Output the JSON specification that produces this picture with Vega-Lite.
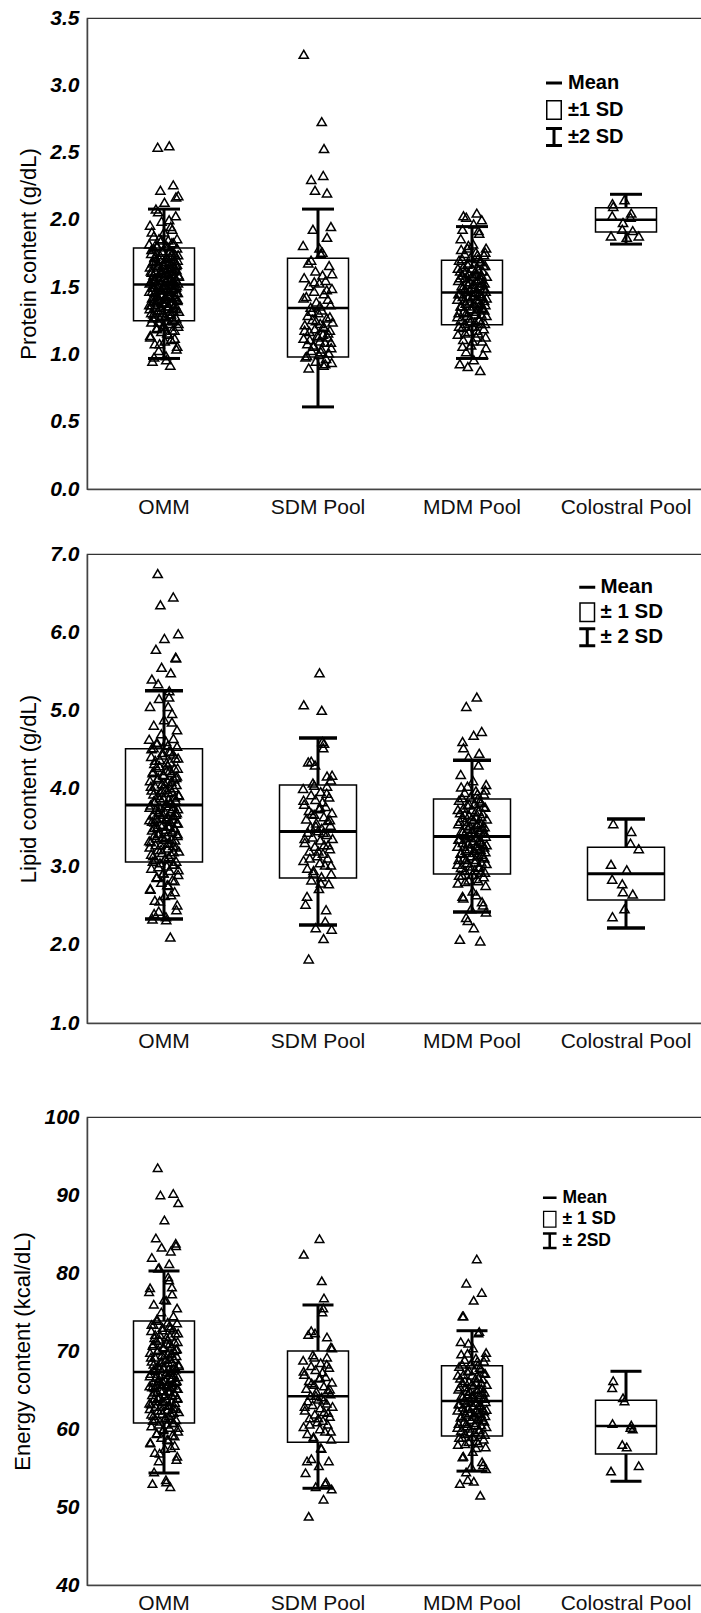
{
"$schema": "https://vega.github.io/schema/vega-lite/v6.json",
"padding": {"left": 11, "top": 6, "right": 0, "bottom": 0},
"config": {
  "font": "Liberation Sans",
  "view": {"stroke": "#333", "strokeWidth": 1.2},
  "axis": {"grid": false, "domainColor": "#444", "domainWidth": 1.5, "labelColor": "black", "titleColor": "black", "labelFont": "Liberation Sans", "titleFont": "Liberation Sans"},
  "axisY": {"titleFontSize": 22, "titleFontWeight": "normal", "titlePadding": 9, "labelFontSize": 21, "labelFontWeight": "bold", "labelFontStyle": "italic", "labelPadding": 8, "ticks": false},
  "axisX": {"labelFontSize": 21, "labelPadding": 7, "ticks": false, "labelAngle": 0, "labelColor": "#111"},
  "legend": {"title": null, "orient": "none", "padding": 0, "symbolStrokeColor": "black", "symbolFillColor": "black", "symbolStrokeWidth": 0, "symbolOpacity": 1, "labelFont": "Liberation Sans", "labelFontWeight": "bold", "labelColor": "black"}
},
"datasets": {
"sp": [
 {"g":"OMM","mean":1.52,"lo1":1.25,"hi1":1.79,"lo2":0.97,"hi2":2.08},
 {"g":"SDM Pool","mean":1.345,"lo1":0.98,"hi1":1.715,"lo2":0.61,"hi2":2.08},
 {"g":"MDM Pool","mean":1.46,"lo1":1.22,"hi1":1.70,"lo2":0.97,"hi2":1.95},
 {"g":"Colostral Pool","mean":2.00,"lo1":1.91,"hi1":2.09,"lo2":1.82,"hi2":2.19}
],
"sl": [
 {"g":"OMM","mean":3.79,"lo1":3.06,"hi1":4.51,"lo2":2.33,"hi2":5.25},
 {"g":"SDM Pool","mean":3.45,"lo1":2.855,"hi1":4.045,"lo2":2.254,"hi2":4.646},
 {"g":"MDM Pool","mean":3.386,"lo1":2.906,"hi1":3.865,"lo2":2.42,"hi2":4.36},
 {"g":"Colostral Pool","mean":2.91,"lo1":2.574,"hi1":3.25,"lo2":2.215,"hi2":3.61}
],
"se": [
 {"g":"OMM","mean":67.3,"lo1":60.77,"hi1":73.85,"lo2":54.36,"hi2":80.26},
 {"g":"SDM Pool","mean":64.2,"lo1":58.3,"hi1":70.0,"lo2":52.4,"hi2":75.9},
 {"g":"MDM Pool","mean":63.6,"lo1":59.1,"hi1":68.1,"lo2":54.6,"hi2":72.6},
 {"g":"Colostral Pool","mean":60.4,"lo1":56.8,"hi1":63.7,"lo2":53.3,"hi2":67.4}
],
"pts": [
{"g":"OMM","j":0.42,"p":0.92,"l":2.10,"e":52.6},
{"g":"OMM","j":-0.77,"p":0.95,"l":2.33,"e":53.0},
{"g":"OMM","j":0.13,"p":0.99,"l":2.36,"e":53.5},
{"g":"OMM","j":-0.35,"p":1.03,"l":2.43,"e":55.9},
{"g":"OMM","j":0.88,"p":1.06,"l":2.51,"e":56.5},
{"g":"OMM","j":-0.61,"p":1.08,"l":2.57,"e":57.0},
{"g":"OMM","j":0.05,"p":1.10,"l":2.63,"e":57.5},
{"g":"OMM","j":0.71,"p":1.12,"l":2.68,"e":57.9},
{"g":"OMM","j":-0.92,"p":1.14,"l":2.72,"e":58.3},
{"g":"OMM","j":0.29,"p":1.15,"l":2.76,"e":58.6},
{"g":"OMM","j":-0.18,"p":1.17,"l":2.80,"e":58.9},
{"g":"OMM","j":0.56,"p":1.18,"l":2.83,"e":59.2},
{"g":"OMM","j":-0.49,"p":1.19,"l":2.86,"e":59.4},
{"g":"OMM","j":0.94,"p":1.21,"l":2.90,"e":59.7},
{"g":"OMM","j":-0.03,"p":1.22,"l":2.92,"e":60.0},
{"g":"OMM","j":0.37,"p":1.23,"l":2.95,"e":60.2},
{"g":"OMM","j":-0.84,"p":1.24,"l":2.98,"e":60.4},
{"g":"OMM","j":0.19,"p":1.25,"l":3.01,"e":60.6},
{"g":"OMM","j":0.66,"p":1.25,"l":3.03,"e":60.8},
{"g":"OMM","j":-0.27,"p":1.27,"l":3.05,"e":61.0},
{"g":"OMM","j":0.81,"p":1.27,"l":3.07,"e":61.2},
{"g":"OMM","j":-0.58,"p":1.28,"l":3.09,"e":61.3},
{"g":"OMM","j":0.08,"p":1.29,"l":3.11,"e":61.5},
{"g":"OMM","j":-0.71,"p":1.30,"l":3.14,"e":61.7},
{"g":"OMM","j":0.47,"p":1.30,"l":3.16,"e":61.9},
{"g":"OMM","j":-0.12,"p":1.31,"l":3.18,"e":62.0},
{"g":"OMM","j":0.99,"p":1.32,"l":3.20,"e":62.2},
{"g":"OMM","j":-0.40,"p":1.33,"l":3.22,"e":62.4},
{"g":"OMM","j":0.24,"p":1.34,"l":3.24,"e":62.5},
{"g":"OMM","j":-0.95,"p":1.34,"l":3.25,"e":62.6},
{"g":"OMM","j":0.61,"p":1.35,"l":3.27,"e":62.8},
{"g":"OMM","j":-0.22,"p":1.35,"l":3.28,"e":62.9},
{"g":"OMM","j":0.33,"p":1.36,"l":3.31,"e":63.1},
{"g":"OMM","j":-0.87,"p":1.37,"l":3.32,"e":63.2},
{"g":"OMM","j":0.74,"p":1.37,"l":3.34,"e":63.4},
{"g":"OMM","j":0.02,"p":1.38,"l":3.35,"e":63.5},
{"g":"OMM","j":-0.53,"p":1.39,"l":3.37,"e":63.6},
{"g":"OMM","j":0.17,"p":1.39,"l":3.39,"e":63.8},
{"g":"OMM","j":-0.66,"p":1.40,"l":3.40,"e":63.9},
{"g":"OMM","j":0.90,"p":1.41,"l":3.42,"e":64.0},
{"g":"OMM","j":-0.31,"p":1.41,"l":3.43,"e":64.1},
{"g":"OMM","j":0.52,"p":1.42,"l":3.45,"e":64.3},
{"g":"OMM","j":-0.79,"p":1.42,"l":3.47,"e":64.4},
{"g":"OMM","j":0.11,"p":1.43,"l":3.48,"e":64.5},
{"g":"OMM","j":0.69,"p":1.43,"l":3.50,"e":64.7},
{"g":"OMM","j":-0.45,"p":1.44,"l":3.51,"e":64.8},
{"g":"OMM","j":0.27,"p":1.44,"l":3.52,"e":64.9},
{"g":"OMM","j":-0.08,"p":1.45,"l":3.54,"e":65.0},
{"g":"OMM","j":0.85,"p":1.46,"l":3.56,"e":65.2},
{"g":"OMM","j":-0.63,"p":1.46,"l":3.57,"e":65.3},
{"g":"OMM","j":0.38,"p":1.47,"l":3.58,"e":65.4},
{"g":"OMM","j":-0.97,"p":1.47,"l":3.60,"e":65.5},
{"g":"OMM","j":0.58,"p":1.48,"l":3.61,"e":65.6},
{"g":"OMM","j":-0.15,"p":1.48,"l":3.62,"e":65.7},
{"g":"OMM","j":0.21,"p":1.49,"l":3.64,"e":65.8},
{"g":"OMM","j":-0.74,"p":1.50,"l":3.66,"e":66.0},
{"g":"OMM","j":0.79,"p":1.50,"l":3.67,"e":66.1},
{"g":"OMM","j":-0.36,"p":1.51,"l":3.69,"e":66.2},
{"g":"OMM","j":0.07,"p":1.51,"l":3.70,"e":66.3},
{"g":"OMM","j":0.48,"p":1.52,"l":3.71,"e":66.4},
{"g":"OMM","j":-0.56,"p":1.52,"l":3.73,"e":66.6},
{"g":"OMM","j":0.93,"p":1.53,"l":3.74,"e":66.7},
{"g":"OMM","j":-0.26,"p":1.53,"l":3.76,"e":66.8},
{"g":"OMM","j":0.64,"p":1.54,"l":3.77,"e":67.0},
{"g":"OMM","j":-0.89,"p":1.54,"l":3.79,"e":67.1},
{"g":"OMM","j":0.15,"p":1.55,"l":3.81,"e":67.3},
{"g":"OMM","j":0.44,"p":1.56,"l":3.83,"e":67.5},
{"g":"OMM","j":-0.69,"p":1.56,"l":3.84,"e":67.6},
{"g":"OMM","j":0.31,"p":1.57,"l":3.86,"e":67.7},
{"g":"OMM","j":-0.04,"p":1.57,"l":3.88,"e":67.9},
{"g":"OMM","j":0.72,"p":1.58,"l":3.89,"e":68.0},
{"g":"OMM","j":-0.43,"p":1.58,"l":3.91,"e":68.1},
{"g":"OMM","j":0.97,"p":1.59,"l":3.92,"e":68.3},
{"g":"OMM","j":-0.20,"p":1.60,"l":3.95,"e":68.5},
{"g":"OMM","j":0.55,"p":1.60,"l":3.96,"e":68.6},
{"g":"OMM","j":-0.82,"p":1.61,"l":3.98,"e":68.7},
{"g":"OMM","j":0.10,"p":1.61,"l":3.99,"e":68.9},
{"g":"OMM","j":0.35,"p":1.62,"l":4.01,"e":69.0},
{"g":"OMM","j":-0.59,"p":1.62,"l":4.03,"e":69.2},
{"g":"OMM","j":0.83,"p":1.63,"l":4.05,"e":69.4},
{"g":"OMM","j":-0.13,"p":1.63,"l":4.06,"e":69.5},
{"g":"OMM","j":0.26,"p":1.64,"l":4.09,"e":69.7},
{"g":"OMM","j":-0.93,"p":1.65,"l":4.10,"e":69.8},
{"g":"OMM","j":0.67,"p":1.65,"l":4.12,"e":70.0},
{"g":"OMM","j":-0.38,"p":1.66,"l":4.14,"e":70.2},
{"g":"OMM","j":0.86,"p":1.67,"l":4.16,"e":70.3},
{"g":"OMM","j":-0.07,"p":1.67,"l":4.18,"e":70.5},
{"g":"OMM","j":0.50,"p":1.68,"l":4.20,"e":70.6},
{"g":"OMM","j":-0.72,"p":1.69,"l":4.22,"e":70.9},
{"g":"OMM","j":0.18,"p":1.69,"l":4.23,"e":71.0},
{"g":"OMM","j":0.91,"p":1.70,"l":4.26,"e":71.2},
{"g":"OMM","j":-0.50,"p":1.70,"l":4.27,"e":71.3},
{"g":"OMM","j":0.23,"p":1.71,"l":4.30,"e":71.5},
{"g":"OMM","j":-0.64,"p":1.72,"l":4.32,"e":71.7},
{"g":"OMM","j":0.40,"p":1.73,"l":4.34,"e":71.9},
{"g":"OMM","j":-0.28,"p":1.74,"l":4.37,"e":72.1},
{"g":"OMM","j":0.76,"p":1.74,"l":4.39,"e":72.3},
{"g":"OMM","j":-0.85,"p":1.75,"l":4.41,"e":72.6},
{"g":"OMM","j":0.60,"p":1.76,"l":4.44,"e":72.8},
{"g":"OMM","j":-0.10,"p":1.77,"l":4.46,"e":73.0},
{"g":"OMM","j":0.34,"p":1.77,"l":4.48,"e":73.2},
{"g":"OMM","j":-0.70,"p":1.79,"l":4.52,"e":73.4},
{"g":"OMM","j":0.87,"p":1.79,"l":4.54,"e":73.6},
{"g":"OMM","j":-0.47,"p":1.80,"l":4.57,"e":73.9},
{"g":"OMM","j":0.14,"p":1.81,"l":4.60,"e":76.5},
{"g":"OMM","j":-0.99,"p":1.82,"l":4.63,"e":77.6},
{"g":"OMM","j":0.53,"p":1.83,"l":4.85,"e":78.2},
{"g":"OMM","j":0.28,"p":1.85,"l":5.05,"e":79.5},
{"g":"OMM","j":-0.33,"p":1.86,"l":5.15,"e":80.7},
{"g":"OMM","j":0.35,"p":2.55,"l":5.25,"e":81.2},
{"g":"OMM","j":-0.81,"p":1.91,"l":5.40,"e":82.0},
{"g":"OMM","j":0.45,"p":1.95,"l":5.48,"e":82.8},
{"g":"OMM","j":-0.16,"p":1.99,"l":5.55,"e":83.3},
{"g":"OMM","j":0.78,"p":2.03,"l":5.68,"e":83.8},
{"g":"OMM","j":-0.54,"p":2.08,"l":5.78,"e":84.5},
{"g":"OMM","j":0.03,"p":2.13,"l":5.92,"e":86.8},
{"g":"OMM","j":0.95,"p":2.18,"l":5.98,"e":89.0},
{"g":"OMM","j":-0.24,"p":2.22,"l":6.35,"e":90.0},
{"g":"OMM","j":0.62,"p":2.26,"l":6.45,"e":90.2},
{"g":"OMM","j":-0.42,"p":2.54,"l":6.75,"e":93.5},
{"g":"OMM","j":0.15,"p":0.96,"l":2.32,"e":53.2},
{"g":"OMM","j":-0.66,"p":0.98,"l":2.40,"e":54.5},
{"g":"OMM","j":0.83,"p":1.04,"l":2.45,"e":56.1},
{"g":"OMM","j":-0.29,"p":1.08,"l":2.56,"e":56.9},
{"g":"OMM","j":0.47,"p":1.11,"l":2.64,"e":57.6},
{"g":"OMM","j":-0.91,"p":1.13,"l":2.71,"e":58.2},
{"g":"OMM","j":0.22,"p":1.16,"l":2.77,"e":58.7},
{"g":"OMM","j":0.70,"p":1.18,"l":2.82,"e":59.1},
{"g":"OMM","j":-0.48,"p":1.20,"l":2.87,"e":59.5},
{"g":"OMM","j":-0.05,"p":1.21,"l":2.92,"e":59.9},
{"g":"OMM","j":0.96,"p":1.23,"l":2.96,"e":60.2},
{"g":"OMM","j":-0.37,"p":1.24,"l":3.00,"e":60.6},
{"g":"OMM","j":0.58,"p":1.26,"l":3.03,"e":60.8},
{"g":"OMM","j":-0.74,"p":1.27,"l":3.07,"e":61.1},
{"g":"OMM","j":0.09,"p":1.28,"l":3.10,"e":61.4},
{"g":"OMM","j":0.32,"p":1.30,"l":3.13,"e":61.7},
{"g":"OMM","j":-0.85,"p":1.31,"l":3.16,"e":61.9},
{"g":"OMM","j":0.64,"p":1.32,"l":3.19,"e":62.1},
{"g":"OMM","j":-0.19,"p":1.33,"l":3.22,"e":62.4},
{"g":"OMM","j":0.79,"p":1.34,"l":3.25,"e":62.6},
{"g":"OMM","j":-0.56,"p":1.35,"l":3.28,"e":62.9},
{"g":"OMM","j":0.27,"p":1.36,"l":3.30,"e":63.0},
{"g":"OMM","j":-0.98,"p":1.37,"l":3.33,"e":63.3},
{"g":"OMM","j":0.51,"p":1.38,"l":3.35,"e":63.5},
{"g":"OMM","j":-0.12,"p":1.39,"l":3.37,"e":63.6},
{"g":"OMM","j":0.89,"p":1.40,"l":3.40,"e":63.9},
{"g":"OMM","j":-0.41,"p":1.41,"l":3.42,"e":64.0},
{"g":"OMM","j":0.04,"p":1.42,"l":3.45,"e":64.3},
{"g":"OMM","j":0.73,"p":1.42,"l":3.47,"e":64.4},
{"g":"OMM","j":-0.64,"p":1.43,"l":3.50,"e":64.7},
{"g":"OMM","j":0.38,"p":1.44,"l":3.52,"e":64.8},
{"g":"OMM","j":-0.23,"p":1.45,"l":3.54,"e":65.0},
{"g":"OMM","j":0.92,"p":1.46,"l":3.56,"e":65.2},
{"g":"OMM","j":-0.79,"p":1.47,"l":3.58,"e":65.4},
{"g":"OMM","j":0.19,"p":1.48,"l":3.60,"e":65.5},
{"g":"OMM","j":-0.52,"p":1.48,"l":3.62,"e":65.7},
{"g":"OMM","j":0.61,"p":1.49,"l":3.65,"e":65.9},
{"g":"OMM","j":-0.08,"p":1.50,"l":3.67,"e":66.1},
{"g":"OMM","j":0.85,"p":1.51,"l":3.69,"e":66.2},
{"g":"OMM","j":-0.34,"p":1.51,"l":3.71,"e":66.4},
{"g":"OMM","j":0.55,"p":1.53,"l":3.74,"e":66.6},
{"g":"OMM","j":-0.95,"p":1.53,"l":3.76,"e":66.8},
{"g":"OMM","j":0.12,"p":1.54,"l":3.78,"e":67.0},
{"g":"OMM","j":0.44,"p":1.55,"l":3.81,"e":67.2},
{"g":"OMM","j":-0.61,"p":1.56,"l":3.83,"e":67.5},
{"g":"OMM","j":0.77,"p":1.56,"l":3.85,"e":67.7},
{"g":"OMM","j":-0.27,"p":1.57,"l":3.88,"e":67.9},
{"g":"OMM","j":0.99,"p":1.58,"l":3.91,"e":68.1},
{"g":"OMM","j":-0.70,"p":1.59,"l":3.93,"e":68.3},
{"g":"OMM","j":0.30,"p":1.60,"l":3.95,"e":68.5},
{"g":"OMM","j":-0.15,"p":1.61,"l":3.98,"e":68.7},
{"g":"OMM","j":0.66,"p":1.62,"l":4.01,"e":69.0},
{"g":"OMM","j":-0.87,"p":1.62,"l":4.03,"e":69.2},
{"g":"OMM","j":0.06,"p":1.63,"l":4.06,"e":69.5},
{"g":"OMM","j":0.49,"p":1.64,"l":4.09,"e":69.7},
{"g":"OMM","j":-0.44,"p":1.65,"l":4.12,"e":70.0},
{"g":"OMM","j":0.81,"p":1.66,"l":4.14,"e":70.2},
{"g":"OMM","j":-0.02,"p":1.67,"l":4.17,"e":70.4},
{"g":"OMM","j":-0.76,"p":1.68,"l":4.20,"e":70.7},
{"g":"OMM","j":0.36,"p":1.69,"l":4.23,"e":70.9},
{"g":"OMM","j":0.71,"p":1.70,"l":4.26,"e":71.2},
{"g":"OMM","j":-0.31,"p":1.71,"l":4.29,"e":71.5},
{"g":"OMM","j":0.17,"p":1.72,"l":4.33,"e":71.8},
{"g":"OMM","j":-0.59,"p":1.73,"l":4.36,"e":72.1},
{"g":"OMM","j":0.94,"p":1.74,"l":4.39,"e":72.3},
{"g":"OMM","j":-0.10,"p":1.76,"l":4.43,"e":72.7},
{"g":"OMM","j":0.42,"p":1.77,"l":4.47,"e":73.0},
{"g":"OMM","j":-0.83,"p":1.78,"l":4.51,"e":73.4},
{"g":"OMM","j":0.25,"p":1.80,"l":4.55,"e":73.7},
{"g":"OMM","j":-0.47,"p":1.81,"l":4.59,"e":74.1},
{"g":"OMM","j":0.63,"p":1.83,"l":4.64,"e":74.5},
{"g":"OMM","j":-0.18,"p":1.85,"l":4.70,"e":75.0},
{"g":"OMM","j":0.87,"p":1.86,"l":4.75,"e":75.5},
{"g":"OMM","j":-0.68,"p":1.88,"l":4.81,"e":76.0},
{"g":"OMM","j":0.01,"p":1.91,"l":4.88,"e":76.6},
{"g":"OMM","j":0.54,"p":1.93,"l":4.96,"e":77.3},
{"g":"OMM","j":-0.93,"p":1.96,"l":5.05,"e":78.1},
{"g":"OMM","j":0.34,"p":2.00,"l":5.17,"e":79.1},
{"g":"OMM","j":-0.39,"p":2.06,"l":5.34,"e":80.6},
{"g":"OMM","j":0.80,"p":2.17,"l":5.67,"e":83.5},
{"g":"SDM Pool","j":-0.62,"p":0.90,"l":1.82,"e":48.8},
{"g":"SDM Pool","j":0.37,"p":0.92,"l":2.08,"e":51.0},
{"g":"SDM Pool","j":0.91,"p":0.94,"l":2.20,"e":52.3},
{"g":"SDM Pool","j":-0.15,"p":0.95,"l":2.22,"e":52.6},
{"g":"SDM Pool","j":0.54,"p":0.97,"l":2.45,"e":53.2},
{"g":"SDM Pool","j":-0.83,"p":0.98,"l":2.52,"e":54.4},
{"g":"SDM Pool","j":0.06,"p":1.00,"l":2.72,"e":55.3},
{"g":"SDM Pool","j":0.72,"p":1.01,"l":2.78,"e":55.9},
{"g":"SDM Pool","j":-0.44,"p":1.03,"l":2.83,"e":56.2},
{"g":"SDM Pool","j":0.23,"p":1.04,"l":2.87,"e":57.5},
{"g":"SDM Pool","j":0.88,"p":1.05,"l":2.91,"e":58.7},
{"g":"SDM Pool","j":-0.30,"p":1.07,"l":2.95,"e":59.0},
{"g":"SDM Pool","j":-0.71,"p":1.08,"l":2.98,"e":59.4},
{"g":"SDM Pool","j":0.47,"p":1.09,"l":3.02,"e":59.7},
{"g":"SDM Pool","j":0.12,"p":1.10,"l":3.05,"e":60.0},
{"g":"SDM Pool","j":-0.96,"p":1.12,"l":3.08,"e":60.3},
{"g":"SDM Pool","j":0.64,"p":1.13,"l":3.11,"e":60.6},
{"g":"SDM Pool","j":-0.05,"p":1.14,"l":3.14,"e":60.9},
{"g":"SDM Pool","j":0.33,"p":1.15,"l":3.17,"e":61.1},
{"g":"SDM Pool","j":-0.57,"p":1.17,"l":3.20,"e":61.4},
{"g":"SDM Pool","j":0.79,"p":1.18,"l":3.23,"e":61.6},
{"g":"SDM Pool","j":-0.21,"p":1.19,"l":3.26,"e":61.9},
{"g":"SDM Pool","j":0.41,"p":1.20,"l":3.28,"e":62.2},
{"g":"SDM Pool","j":-0.88,"p":1.22,"l":3.31,"e":62.4},
{"g":"SDM Pool","j":0.15,"p":1.23,"l":3.34,"e":62.7},
{"g":"SDM Pool","j":0.97,"p":1.24,"l":3.36,"e":62.9},
{"g":"SDM Pool","j":-0.36,"p":1.26,"l":3.38,"e":63.1},
{"g":"SDM Pool","j":0.58,"p":1.27,"l":3.41,"e":63.3},
{"g":"SDM Pool","j":-0.68,"p":1.29,"l":3.44,"e":63.6},
{"g":"SDM Pool","j":0.02,"p":1.31,"l":3.46,"e":63.8},
{"g":"SDM Pool","j":0.25,"p":1.33,"l":3.49,"e":64.1},
{"g":"SDM Pool","j":-0.49,"p":1.35,"l":3.51,"e":64.3},
{"g":"SDM Pool","j":0.83,"p":1.37,"l":3.53,"e":64.5},
{"g":"SDM Pool","j":-0.11,"p":1.39,"l":3.56,"e":64.8},
{"g":"SDM Pool","j":0.66,"p":1.41,"l":3.59,"e":65.0},
{"g":"SDM Pool","j":-0.78,"p":1.43,"l":3.61,"e":65.2},
{"g":"SDM Pool","j":0.39,"p":1.45,"l":3.64,"e":65.5},
{"g":"SDM Pool","j":-0.26,"p":1.47,"l":3.67,"e":65.7},
{"g":"SDM Pool","j":0.93,"p":1.49,"l":3.69,"e":66.0},
{"g":"SDM Pool","j":-0.60,"p":1.51,"l":3.72,"e":66.2},
{"g":"SDM Pool","j":0.09,"p":1.53,"l":3.74,"e":66.5},
{"g":"SDM Pool","j":0.51,"p":1.55,"l":3.77,"e":66.7},
{"g":"SDM Pool","j":-0.92,"p":1.57,"l":3.80,"e":67.0},
{"g":"SDM Pool","j":0.30,"p":1.59,"l":3.83,"e":67.3},
{"g":"SDM Pool","j":-0.17,"p":1.62,"l":3.86,"e":67.6},
{"g":"SDM Pool","j":0.74,"p":1.66,"l":3.89,"e":67.9},
{"g":"SDM Pool","j":-0.46,"p":1.70,"l":3.92,"e":68.1},
{"g":"SDM Pool","j":0.18,"p":1.75,"l":3.96,"e":68.5},
{"g":"SDM Pool","j":-0.99,"p":1.81,"l":4.00,"e":68.8},
{"g":"SDM Pool","j":0.60,"p":1.87,"l":4.03,"e":69.2},
{"g":"SDM Pool","j":-0.34,"p":1.93,"l":4.07,"e":69.5},
{"g":"SDM Pool","j":0.86,"p":1.95,"l":4.11,"e":70.5},
{"g":"SDM Pool","j":0.60,"p":2.20,"l":4.16,"e":71.8},
{"g":"SDM Pool","j":-0.20,"p":2.22,"l":4.30,"e":72.3},
{"g":"SDM Pool","j":-0.45,"p":2.30,"l":4.35,"e":72.6},
{"g":"SDM Pool","j":0.35,"p":2.33,"l":4.52,"e":75.5},
{"g":"SDM Pool","j":0.40,"p":2.53,"l":4.58,"e":76.8},
{"g":"SDM Pool","j":0.25,"p":2.73,"l":5.00,"e":79.0},
{"g":"SDM Pool","j":-0.95,"p":3.23,"l":5.07,"e":82.4},
{"g":"SDM Pool","j":0.10,"p":1.79,"l":5.48,"e":84.4},
{"g":"SDM Pool","j":0.48,"p":0.93,"l":2.30,"e":53.0},
{"g":"SDM Pool","j":-0.73,"p":0.99,"l":2.62,"e":55.9},
{"g":"SDM Pool","j":0.19,"p":1.02,"l":2.79,"e":57.6},
{"g":"SDM Pool","j":-0.31,"p":1.06,"l":2.92,"e":58.8},
{"g":"SDM Pool","j":0.86,"p":1.09,"l":3.02,"e":59.7},
{"g":"SDM Pool","j":-0.55,"p":1.11,"l":3.11,"e":60.6},
{"g":"SDM Pool","j":0.02,"p":1.13,"l":3.20,"e":61.4},
{"g":"SDM Pool","j":0.67,"p":1.16,"l":3.28,"e":62.1},
{"g":"SDM Pool","j":-0.89,"p":1.18,"l":3.36,"e":62.9},
{"g":"SDM Pool","j":0.36,"p":1.21,"l":3.44,"e":63.7},
{"g":"SDM Pool","j":-0.14,"p":1.25,"l":3.52,"e":64.3},
{"g":"SDM Pool","j":0.79,"p":1.28,"l":3.60,"e":65.1},
{"g":"SDM Pool","j":-0.42,"p":1.32,"l":3.68,"e":65.9},
{"g":"SDM Pool","j":0.13,"p":1.36,"l":3.76,"e":66.6},
{"g":"SDM Pool","j":-0.96,"p":1.42,"l":3.85,"e":67.4},
{"g":"SDM Pool","j":0.58,"p":1.48,"l":3.94,"e":68.3},
{"g":"SDM Pool","j":-0.25,"p":1.54,"l":4.04,"e":69.2},
{"g":"SDM Pool","j":0.94,"p":1.60,"l":4.17,"e":70.4},
{"g":"SDM Pool","j":-0.65,"p":1.68,"l":4.34,"e":72.1},
{"g":"SDM Pool","j":0.29,"p":1.76,"l":4.60,"e":75.0},
{"g":"MDM Pool","j":0.55,"p":0.88,"l":2.05,"e":51.5},
{"g":"MDM Pool","j":-0.81,"p":0.93,"l":2.07,"e":53.0},
{"g":"MDM Pool","j":0.12,"p":0.96,"l":2.22,"e":53.3},
{"g":"MDM Pool","j":-0.39,"p":1.02,"l":2.35,"e":54.5},
{"g":"MDM Pool","j":0.93,"p":1.05,"l":2.42,"e":54.9},
{"g":"MDM Pool","j":-0.06,"p":1.07,"l":2.46,"e":55.2},
{"g":"MDM Pool","j":0.67,"p":1.10,"l":2.55,"e":55.8},
{"g":"MDM Pool","j":-0.58,"p":1.11,"l":2.60,"e":56.5},
{"g":"MDM Pool","j":0.28,"p":1.13,"l":2.64,"e":57.6},
{"g":"MDM Pool","j":-0.94,"p":1.15,"l":2.79,"e":58.0},
{"g":"MDM Pool","j":0.41,"p":1.16,"l":2.82,"e":58.2},
{"g":"MDM Pool","j":-0.22,"p":1.17,"l":2.83,"e":58.4},
{"g":"MDM Pool","j":0.78,"p":1.19,"l":2.87,"e":58.7},
{"g":"MDM Pool","j":-0.65,"p":1.20,"l":2.89,"e":58.9},
{"g":"MDM Pool","j":0.03,"p":1.21,"l":2.90,"e":59.0},
{"g":"MDM Pool","j":0.86,"p":1.23,"l":2.93,"e":59.3},
{"g":"MDM Pool","j":-0.47,"p":1.23,"l":2.95,"e":59.4},
{"g":"MDM Pool","j":0.19,"p":1.24,"l":2.96,"e":59.6},
{"g":"MDM Pool","j":-0.73,"p":1.26,"l":2.99,"e":59.8},
{"g":"MDM Pool","j":0.50,"p":1.26,"l":3.00,"e":59.9},
{"g":"MDM Pool","j":-0.13,"p":1.27,"l":3.01,"e":60.1},
{"g":"MDM Pool","j":0.96,"p":1.29,"l":3.04,"e":60.3},
{"g":"MDM Pool","j":-0.33,"p":1.29,"l":3.05,"e":60.4},
{"g":"MDM Pool","j":0.62,"p":1.30,"l":3.06,"e":60.5},
{"g":"MDM Pool","j":-0.89,"p":1.31,"l":3.09,"e":60.7},
{"g":"MDM Pool","j":0.24,"p":1.32,"l":3.09,"e":60.8},
{"g":"MDM Pool","j":-0.55,"p":1.32,"l":3.11,"e":60.9},
{"g":"MDM Pool","j":0.71,"p":1.34,"l":3.13,"e":61.2},
{"g":"MDM Pool","j":-0.09,"p":1.34,"l":3.14,"e":61.2},
{"g":"MDM Pool","j":0.37,"p":1.34,"l":3.15,"e":61.3},
{"g":"MDM Pool","j":-0.76,"p":1.36,"l":3.17,"e":61.5},
{"g":"MDM Pool","j":0.14,"p":1.36,"l":3.18,"e":61.6},
{"g":"MDM Pool","j":0.89,"p":1.37,"l":3.19,"e":61.7},
{"g":"MDM Pool","j":-0.42,"p":1.38,"l":3.21,"e":61.9},
{"g":"MDM Pool","j":0.58,"p":1.38,"l":3.22,"e":62.0},
{"g":"MDM Pool","j":-0.18,"p":1.39,"l":3.23,"e":62.1},
{"g":"MDM Pool","j":0.81,"p":1.40,"l":3.25,"e":62.3},
{"g":"MDM Pool","j":-0.97,"p":1.41,"l":3.26,"e":62.4},
{"g":"MDM Pool","j":0.31,"p":1.41,"l":3.27,"e":62.5},
{"g":"MDM Pool","j":-0.27,"p":1.42,"l":3.29,"e":62.6},
{"g":"MDM Pool","j":0.69,"p":1.43,"l":3.30,"e":62.7},
{"g":"MDM Pool","j":-0.61,"p":1.43,"l":3.31,"e":62.8},
{"g":"MDM Pool","j":0.07,"p":1.44,"l":3.33,"e":63.0},
{"g":"MDM Pool","j":0.46,"p":1.45,"l":3.34,"e":63.1},
{"g":"MDM Pool","j":-0.84,"p":1.45,"l":3.35,"e":63.2},
{"g":"MDM Pool","j":0.22,"p":1.46,"l":3.37,"e":63.4},
{"g":"MDM Pool","j":-0.37,"p":1.47,"l":3.38,"e":63.4},
{"g":"MDM Pool","j":0.91,"p":1.47,"l":3.39,"e":63.5},
{"g":"MDM Pool","j":-0.51,"p":1.48,"l":3.41,"e":63.7},
{"g":"MDM Pool","j":0.16,"p":1.49,"l":3.42,"e":63.9},
{"g":"MDM Pool","j":0.76,"p":1.49,"l":3.43,"e":64.0},
{"g":"MDM Pool","j":-0.02,"p":1.50,"l":3.45,"e":64.2},
{"g":"MDM Pool","j":-0.69,"p":1.51,"l":3.46,"e":64.3},
{"g":"MDM Pool","j":0.53,"p":1.51,"l":3.47,"e":64.4},
{"g":"MDM Pool","j":-0.29,"p":1.52,"l":3.49,"e":64.5},
{"g":"MDM Pool","j":0.84,"p":1.53,"l":3.51,"e":64.7},
{"g":"MDM Pool","j":-0.14,"p":1.54,"l":3.52,"e":64.8},
{"g":"MDM Pool","j":0.35,"p":1.55,"l":3.54,"e":65.0},
{"g":"MDM Pool","j":-0.91,"p":1.55,"l":3.55,"e":65.1},
{"g":"MDM Pool","j":0.63,"p":1.56,"l":3.56,"e":65.2},
{"g":"MDM Pool","j":-0.45,"p":1.57,"l":3.58,"e":65.4},
{"g":"MDM Pool","j":0.09,"p":1.58,"l":3.60,"e":65.6},
{"g":"MDM Pool","j":0.98,"p":1.58,"l":3.61,"e":65.7},
{"g":"MDM Pool","j":-0.67,"p":1.59,"l":3.63,"e":65.9},
{"g":"MDM Pool","j":0.27,"p":1.60,"l":3.64,"e":66.0},
{"g":"MDM Pool","j":-0.20,"p":1.60,"l":3.66,"e":66.1},
{"g":"MDM Pool","j":0.72,"p":1.62,"l":3.68,"e":66.4},
{"g":"MDM Pool","j":-0.79,"p":1.62,"l":3.69,"e":66.5},
{"g":"MDM Pool","j":0.43,"p":1.63,"l":3.71,"e":66.6},
{"g":"MDM Pool","j":0.00,"p":1.64,"l":3.73,"e":66.9},
{"g":"MDM Pool","j":-0.57,"p":1.65,"l":3.75,"e":67.0},
{"g":"MDM Pool","j":0.88,"p":1.66,"l":3.76,"e":67.1},
{"g":"MDM Pool","j":-0.31,"p":1.67,"l":3.79,"e":67.4},
{"g":"MDM Pool","j":0.17,"p":1.68,"l":3.81,"e":67.6},
{"g":"MDM Pool","j":0.60,"p":1.69,"l":3.82,"e":67.7},
{"g":"MDM Pool","j":-0.86,"p":1.70,"l":3.85,"e":68.0},
{"g":"MDM Pool","j":0.39,"p":1.71,"l":3.87,"e":68.2},
{"g":"MDM Pool","j":-0.11,"p":1.72,"l":3.89,"e":68.3},
{"g":"MDM Pool","j":0.80,"p":1.74,"l":3.93,"e":68.7},
{"g":"MDM Pool","j":-0.49,"p":1.75,"l":3.95,"e":68.9},
{"g":"MDM Pool","j":0.26,"p":1.76,"l":3.97,"e":69.1},
{"g":"MDM Pool","j":-0.72,"p":1.78,"l":4.02,"e":69.6},
{"g":"MDM Pool","j":0.94,"p":1.79,"l":4.05,"e":69.8},
{"g":"MDM Pool","j":-0.24,"p":1.81,"l":4.40,"e":71.0},
{"g":"MDM Pool","j":0.48,"p":1.90,"l":4.45,"e":72.5},
{"g":"MDM Pool","j":-0.63,"p":1.93,"l":4.60,"e":74.5},
{"g":"MDM Pool","j":0.11,"p":1.97,"l":4.68,"e":76.5},
{"g":"MDM Pool","j":0.65,"p":2.00,"l":4.73,"e":77.5},
{"g":"MDM Pool","j":-0.38,"p":2.02,"l":5.05,"e":78.7},
{"g":"MDM Pool","j":0.32,"p":2.05,"l":5.17,"e":81.8},
{"g":"MDM Pool","j":-0.28,"p":0.91,"l":2.31,"e":53.5},
{"g":"MDM Pool","j":0.74,"p":1.00,"l":2.51,"e":55.4},
{"g":"MDM Pool","j":-0.63,"p":1.06,"l":2.62,"e":56.4},
{"g":"MDM Pool","j":0.05,"p":1.10,"l":2.69,"e":57.1},
{"g":"MDM Pool","j":0.91,"p":1.13,"l":2.76,"e":57.7},
{"g":"MDM Pool","j":-0.45,"p":1.16,"l":2.81,"e":58.1},
{"g":"MDM Pool","j":0.33,"p":1.18,"l":2.85,"e":58.5},
{"g":"MDM Pool","j":-0.86,"p":1.21,"l":2.89,"e":58.9},
{"g":"MDM Pool","j":0.59,"p":1.23,"l":2.93,"e":59.3},
{"g":"MDM Pool","j":-0.12,"p":1.24,"l":2.96,"e":59.6},
{"g":"MDM Pool","j":0.47,"p":1.26,"l":2.99,"e":59.9},
{"g":"MDM Pool","j":-0.97,"p":1.28,"l":3.03,"e":60.2},
{"g":"MDM Pool","j":0.20,"p":1.30,"l":3.06,"e":60.5},
{"g":"MDM Pool","j":-0.38,"p":1.31,"l":3.09,"e":60.7},
{"g":"MDM Pool","j":0.82,"p":1.33,"l":3.11,"e":61.0},
{"g":"MDM Pool","j":-0.07,"p":1.34,"l":3.14,"e":61.2},
{"g":"MDM Pool","j":0.66,"p":1.35,"l":3.16,"e":61.5},
{"g":"MDM Pool","j":-0.71,"p":1.36,"l":3.18,"e":61.7},
{"g":"MDM Pool","j":0.14,"p":1.38,"l":3.21,"e":61.9},
{"g":"MDM Pool","j":0.39,"p":1.39,"l":3.23,"e":62.1},
{"g":"MDM Pool","j":-0.53,"p":1.40,"l":3.26,"e":62.3},
{"g":"MDM Pool","j":0.97,"p":1.42,"l":3.28,"e":62.5},
{"g":"MDM Pool","j":-0.24,"p":1.43,"l":3.30,"e":62.8},
{"g":"MDM Pool","j":0.57,"p":1.44,"l":3.32,"e":63.0},
{"g":"MDM Pool","j":-0.90,"p":1.45,"l":3.35,"e":63.2},
{"g":"MDM Pool","j":0.28,"p":1.47,"l":3.38,"e":63.4},
{"g":"MDM Pool","j":-0.16,"p":1.48,"l":3.40,"e":63.7},
{"g":"MDM Pool","j":0.85,"p":1.49,"l":3.43,"e":63.9},
{"g":"MDM Pool","j":-0.60,"p":1.50,"l":3.45,"e":64.2},
{"g":"MDM Pool","j":0.10,"p":1.52,"l":3.48,"e":64.4},
{"g":"MDM Pool","j":0.70,"p":1.53,"l":3.50,"e":64.6},
{"g":"MDM Pool","j":-0.35,"p":1.54,"l":3.53,"e":64.9},
{"g":"MDM Pool","j":0.45,"p":1.56,"l":3.56,"e":65.2},
{"g":"MDM Pool","j":-0.80,"p":1.57,"l":3.58,"e":65.4},
{"g":"MDM Pool","j":-0.03,"p":1.58,"l":3.61,"e":65.7},
{"g":"MDM Pool","j":0.62,"p":1.59,"l":3.64,"e":65.9},
{"g":"MDM Pool","j":-0.48,"p":1.61,"l":3.67,"e":66.2},
{"g":"MDM Pool","j":0.23,"p":1.62,"l":3.70,"e":66.5},
{"g":"MDM Pool","j":-0.94,"p":1.64,"l":3.73,"e":66.9},
{"g":"MDM Pool","j":0.78,"p":1.66,"l":3.77,"e":67.2},
{"g":"MDM Pool","j":-0.19,"p":1.68,"l":3.80,"e":67.5},
{"g":"MDM Pool","j":0.52,"p":1.69,"l":3.84,"e":67.9},
{"g":"MDM Pool","j":-0.66,"p":1.71,"l":3.88,"e":68.3},
{"g":"MDM Pool","j":0.36,"p":1.74,"l":3.93,"e":68.7},
{"g":"MDM Pool","j":0.88,"p":1.76,"l":3.98,"e":69.2},
{"g":"MDM Pool","j":-0.30,"p":1.79,"l":4.03,"e":69.7},
{"g":"MDM Pool","j":0.07,"p":1.82,"l":4.10,"e":70.4},
{"g":"MDM Pool","j":-0.75,"p":1.86,"l":4.18,"e":71.2},
{"g":"MDM Pool","j":0.43,"p":1.92,"l":4.30,"e":72.3},
{"g":"MDM Pool","j":-0.57,"p":2.03,"l":4.52,"e":74.5},
{"g":"Colostral Pool","j":-0.10,"p":2.15,"l":2.46,"e":63.6},
{"g":"Colostral Pool","j":-0.90,"p":2.12,"l":2.36,"e":60.7},
{"g":"Colostral Pool","j":-0.85,"p":2.10,"l":3.55,"e":66.2},
{"g":"Colostral Pool","j":0.35,"p":2.05,"l":3.45,"e":60.5},
{"g":"Colostral Pool","j":-0.92,"p":2.03,"l":2.84,"e":65.3},
{"g":"Colostral Pool","j":0.30,"p":2.02,"l":3.30,"e":60.2},
{"g":"Colostral Pool","j":-0.20,"p":1.98,"l":2.68,"e":64.0},
{"g":"Colostral Pool","j":-0.25,"p":1.93,"l":2.78,"e":58.0},
{"g":"Colostral Pool","j":0.45,"p":1.92,"l":2.65,"e":60.0},
{"g":"Colostral Pool","j":-1.00,"p":1.88,"l":3.03,"e":54.6},
{"g":"Colostral Pool","j":0.05,"p":1.87,"l":2.96,"e":57.7},
{"g":"Colostral Pool","j":0.85,"p":1.88,"l":3.23,"e":55.3}
]
},
"spacing": 53,
"resolve": {"scale": {"shape": "independent"}, "legend": {"shape": "independent"}},
"vconcat": [
{"spacing": 24,
 "resolve": {"scale": {"shape": "independent"}, "legend": {"shape": "independent"}},
 "vconcat": [
{
 "width": 616, "height": 471,
 "layer": [
  {"data": {"name": "sp"}, "mark": {"type": "bar", "width": 61, "fill": "white", "stroke": "black", "strokeWidth": 1.5},
   "encoding": {
    "x": {"field": "g", "type": "nominal", "title": null, "scale": {"domain": ["OMM","SDM Pool","MDM Pool","Colostral Pool"], "paddingInner": 0, "paddingOuter": 0}},
    "y": {"field": "lo1", "type": "quantitative", "title": "Protein content (g/dL)", "scale": {"domain": [0, 3.5], "nice": false, "zero": false}, "axis": {"values": [0,0.5,1,1.5,2,2.5,3,3.5], "format": ".1f"}},
    "y2": {"field": "hi1"}}},
  {"data": {"name": "pts"}, "mark": {"type": "point", "shape": "triangle-up", "filled": false, "color": "black", "strokeWidth": 1.5, "size": 85, "opacity": 1},
   "encoding": {
    "x": {"field": "g", "type": "nominal", "title": null},
    "xOffset": {"field": "j", "type": "quantitative", "scale": {"domain": [-1, 1], "range": [62, 92]}},
    "y": {"field": "p", "type": "quantitative", "title": "Protein content (g/dL)"}}},
  {"data": {"name": "sp"}, "mark": {"type": "rule", "strokeWidth": 3, "color": "black"},
   "encoding": {"x": {"field": "g", "type": "nominal", "title": null}, "y": {"field": "hi1", "type": "quantitative", "title": "Protein content (g/dL)"}, "y2": {"field": "hi2"}}},
  {"data": {"name": "sp"}, "mark": {"type": "rule", "strokeWidth": 3, "color": "black"},
   "encoding": {"x": {"field": "g", "type": "nominal", "title": null}, "y": {"field": "lo2", "type": "quantitative", "title": "Protein content (g/dL)"}, "y2": {"field": "lo1"}}},
  {"data": {"name": "sp"}, "mark": {"type": "tick", "thickness": 3, "size": 32, "color": "black", "opacity": 1},
   "encoding": {"x": {"field": "g", "type": "nominal", "title": null}, "y": {"field": "hi2", "type": "quantitative", "title": "Protein content (g/dL)"}}},
  {"data": {"name": "sp"}, "mark": {"type": "tick", "thickness": 3, "size": 32, "color": "black", "opacity": 1},
   "encoding": {"x": {"field": "g", "type": "nominal", "title": null}, "y": {"field": "lo2", "type": "quantitative", "title": "Protein content (g/dL)"}}},
  {"data": {"name": "sp"}, "mark": {"type": "tick", "thickness": 2.5, "size": 61, "color": "black", "opacity": 1},
   "encoding": {"x": {"field": "g", "type": "nominal", "title": null}, "y": {"field": "mean", "type": "quantitative", "title": "Protein content (g/dL)"}}},
  {"data": {"values": [{"k": "Mean"}, {"k": "±1 SD"}, {"k": "±2 SD"}]}, "mark": {"type": "point", "opacity": 0, "filled": true, "color": "black", "strokeWidth": 0},
   "encoding": {
    "shape": {"field": "k", "type": "nominal", "scale": {"domain": ["Mean", "±1 SD", "±2 SD"], "range": ["M-0.8,-0.15H0.8V0.15H-0.8Z", "M-0.8,-1H0.8V1H-0.8Z M-0.65,-0.85V0.85H0.65V-0.85Z", "M-0.8,-1H0.8V-0.7H0.15V0.7H0.8V1H-0.8V0.7H-0.15V-0.7H-0.8Z"]},
      "legend": {"legendX": 457, "legendY": 55, "symbolSize": 400, "symbolFillColor": "black", "symbolStrokeWidth": 0, "labelFontSize": 20, "labelOffset": 4, "rowPadding": 7}}}}
 ]
},
{
 "width": 616, "height": 469,
 "layer": [
  {"data": {"name": "sl"}, "mark": {"type": "bar", "width": 77, "fill": "white", "stroke": "black", "strokeWidth": 1.5},
   "encoding": {
    "x": {"field": "g", "type": "nominal", "title": null, "scale": {"domain": ["OMM","SDM Pool","MDM Pool","Colostral Pool"], "paddingInner": 0, "paddingOuter": 0}},
    "y": {"field": "lo1", "type": "quantitative", "title": "Lipid content (g/dL)", "scale": {"domain": [1, 7], "nice": false, "zero": false}, "axis": {"values": [1,2,3,4,5,6,7], "format": ".1f"}},
    "y2": {"field": "hi1"}}},
  {"data": {"name": "pts"}, "mark": {"type": "point", "shape": "triangle-up", "filled": false, "color": "black", "strokeWidth": 1.5, "size": 85, "opacity": 1},
   "encoding": {
    "x": {"field": "g", "type": "nominal", "title": null},
    "xOffset": {"field": "j", "type": "quantitative", "scale": {"domain": [-1, 1], "range": [62, 92]}},
    "y": {"field": "l", "type": "quantitative", "title": "Lipid content (g/dL)"}}},
  {"data": {"name": "sl"}, "mark": {"type": "rule", "strokeWidth": 3, "color": "black"},
   "encoding": {"x": {"field": "g", "type": "nominal", "title": null}, "y": {"field": "hi1", "type": "quantitative", "title": "Lipid content (g/dL)"}, "y2": {"field": "hi2"}}},
  {"data": {"name": "sl"}, "mark": {"type": "rule", "strokeWidth": 3, "color": "black"},
   "encoding": {"x": {"field": "g", "type": "nominal", "title": null}, "y": {"field": "lo2", "type": "quantitative", "title": "Lipid content (g/dL)"}, "y2": {"field": "lo1"}}},
  {"data": {"name": "sl"}, "mark": {"type": "tick", "thickness": 3.5, "size": 38, "color": "black", "opacity": 1},
   "encoding": {"x": {"field": "g", "type": "nominal", "title": null}, "y": {"field": "hi2", "type": "quantitative", "title": "Lipid content (g/dL)"}}},
  {"data": {"name": "sl"}, "mark": {"type": "tick", "thickness": 3.5, "size": 38, "color": "black", "opacity": 1},
   "encoding": {"x": {"field": "g", "type": "nominal", "title": null}, "y": {"field": "lo2", "type": "quantitative", "title": "Lipid content (g/dL)"}}},
  {"data": {"name": "sl"}, "mark": {"type": "tick", "thickness": 3, "size": 77, "color": "black", "opacity": 1},
   "encoding": {"x": {"field": "g", "type": "nominal", "title": null}, "y": {"field": "mean", "type": "quantitative", "title": "Lipid content (g/dL)"}}},
  {"data": {"values": [{"k": "Mean"}, {"k": "± 1 SD"}, {"k": "± 2 SD"}]}, "mark": {"type": "point", "opacity": 0, "filled": true, "color": "black", "strokeWidth": 0},
   "encoding": {
    "shape": {"field": "k", "type": "nominal", "scale": {"domain": ["Mean", "± 1 SD", "± 2 SD"], "range": ["M-0.8,-0.15H0.8V0.15H-0.8Z", "M-0.8,-1H0.8V1H-0.8Z M-0.65,-0.85V0.85H0.65V-0.85Z", "M-0.8,-1H0.8V-0.7H0.15V0.7H0.8V1H-0.8V0.7H-0.15V-0.7H-0.8Z"]},
      "legend": {"legendX": 490, "legendY": 23, "symbolSize": 400, "symbolFillColor": "black", "symbolStrokeWidth": 0, "labelFontSize": 20.5, "labelOffset": 3, "rowPadding": 4}}}}
 ]
}
]},
{
 "width": 616, "height": 468,
 "layer": [
  {"data": {"name": "se"}, "mark": {"type": "bar", "width": 61, "fill": "white", "stroke": "black", "strokeWidth": 1.5},
   "encoding": {
    "x": {"field": "g", "type": "nominal", "title": null, "scale": {"domain": ["OMM","SDM Pool","MDM Pool","Colostral Pool"], "paddingInner": 0, "paddingOuter": 0}},
    "y": {"field": "lo1", "type": "quantitative", "title": "Energy content (kcal/dL)", "scale": {"domain": [40, 100], "nice": false, "zero": false}, "axis": {"values": [40,50,60,70,80,90,100], "format": "d"}},
    "y2": {"field": "hi1"}}},
  {"data": {"name": "pts"}, "mark": {"type": "point", "shape": "triangle-up", "filled": false, "color": "black", "strokeWidth": 1.5, "size": 75, "opacity": 1},
   "encoding": {
    "x": {"field": "g", "type": "nominal", "title": null},
    "xOffset": {"field": "j", "type": "quantitative", "scale": {"domain": [-1, 1], "range": [62, 92]}},
    "y": {"field": "e", "type": "quantitative", "title": "Energy content (kcal/dL)"}}},
  {"data": {"name": "se"}, "mark": {"type": "rule", "strokeWidth": 3, "color": "black"},
   "encoding": {"x": {"field": "g", "type": "nominal", "title": null}, "y": {"field": "hi1", "type": "quantitative", "title": "Energy content (kcal/dL)"}, "y2": {"field": "hi2"}}},
  {"data": {"name": "se"}, "mark": {"type": "rule", "strokeWidth": 3, "color": "black"},
   "encoding": {"x": {"field": "g", "type": "nominal", "title": null}, "y": {"field": "lo2", "type": "quantitative", "title": "Energy content (kcal/dL)"}, "y2": {"field": "lo1"}}},
  {"data": {"name": "se"}, "mark": {"type": "tick", "thickness": 3, "size": 31, "color": "black", "opacity": 1},
   "encoding": {"x": {"field": "g", "type": "nominal", "title": null}, "y": {"field": "hi2", "type": "quantitative", "title": "Energy content (kcal/dL)"}}},
  {"data": {"name": "se"}, "mark": {"type": "tick", "thickness": 3, "size": 31, "color": "black", "opacity": 1},
   "encoding": {"x": {"field": "g", "type": "nominal", "title": null}, "y": {"field": "lo2", "type": "quantitative", "title": "Energy content (kcal/dL)"}}},
  {"data": {"name": "se"}, "mark": {"type": "tick", "thickness": 2.5, "size": 61, "color": "black", "opacity": 1},
   "encoding": {"x": {"field": "g", "type": "nominal", "title": null}, "y": {"field": "mean", "type": "quantitative", "title": "Energy content (kcal/dL)"}}},
  {"data": {"values": [{"k": "Mean"}, {"k": "± 1 SD"}, {"k": "± 2SD"}]}, "mark": {"type": "point", "opacity": 0, "filled": true, "color": "black", "strokeWidth": 0},
   "encoding": {
    "shape": {"field": "k", "type": "nominal", "scale": {"domain": ["Mean", "± 1 SD", "± 2SD"], "range": ["M-0.8,-0.15H0.8V0.15H-0.8Z", "M-0.8,-1H0.8V1H-0.8Z M-0.65,-0.85V0.85H0.65V-0.85Z", "M-0.8,-1H0.8V-0.7H0.15V0.7H0.8V1H-0.8V0.7H-0.15V-0.7H-0.8Z"]},
      "legend": {"legendX": 454, "legendY": 72, "symbolSize": 289, "symbolFillColor": "black", "symbolStrokeWidth": 0, "labelFontSize": 17.5, "labelOffset": 4, "rowPadding": 2.5}}}}
 ]
}
]
}
